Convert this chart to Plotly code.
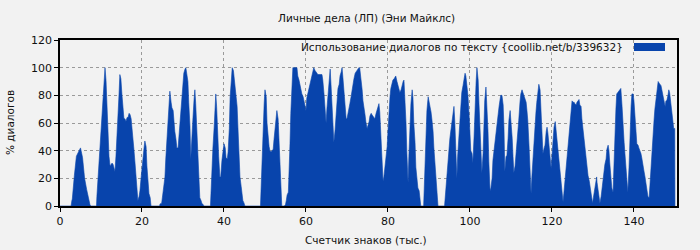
import plotly.graph_objects as go

title_text = "Личные дела (ЛП) (Эни Майклс)"
legend_text = "Использование диалогов по тексту {coollib.net/b/339632}"
x_title = "Счетчик знаков (тыс.)"
y_title = "% диалогов"
x_ticks = [0, 20, 40, 60, 80, 100, 120, 140]
y_ticks = [0, 20, 40, 60, 80, 100, 120]

pts = [
    (0, 0), (2.7, 0), (2.9, 4), (3.0, 5), (3.5, 22), (4.0, 36), (4.5, 39), (5.0, 42), (5.5, 35), (6.0, 20),
    (6.5, 12), (7.0, 4), (7.3, 1), (7.5, 0),
    (8.9, 0), (9.0, 7), (9.27, 20), (9.76, 45), (10.24, 70), (10.5, 81), (10.73, 94), (10.98, 100), (11.22, 91),
    (11.45, 73), (11.7, 55), (11.95, 36), (12.2, 29), (12.45, 30), (12.7, 31), (12.95, 30), (13.2, 27), (13.4, 25),
    (13.65, 36), (13.9, 49), (14.15, 67), (14.4, 81), (14.6, 95), (14.85, 92), (15.1, 81), (15.35, 72), (15.6, 63),
    (15.85, 63), (16.1, 61), (16.35, 64), (16.6, 64), (16.85, 67), (17.1, 66), (17.35, 63), (17.6, 56), (17.8, 50),
    (18.0, 42), (18.3, 31), (18.5, 21), (18.8, 13), (19.0, 4), (19.3, 7), (19.5, 11), (19.8, 21), (20.0, 29),
    (20.25, 36), (20.5, 42), (20.7, 47), (21.0, 43), (21.2, 29), (21.5, 20), (21.7, 9), (22.0, 6), (22.2, 0),
    (24.3, 0), (24.4, 1.5), (24.8, 2), (24.9, 5), (25.1, 8), (25.3, 12), (25.6, 21), (25.8, 34), (26.1, 48),
    (26.3, 62), (26.6, 76), (26.8, 83), (27.1, 75), (27.3, 71), (27.6, 69), (27.8, 60), (28.0, 54), (28.3, 48),
    (28.5, 42), (28.8, 42), (29.0, 50), (29.3, 60), (29.5, 67), (29.8, 82), (30.0, 90), (30.2, 96), (30.5, 99),
    (30.7, 100), (30.9, 96), (31.2, 90), (31.4, 75), (31.7, 58), (31.9, 34), (32.2, 47), (32.4, 62), (32.7, 77),
    (32.9, 84), (33.1, 74), (33.4, 55), (33.6, 36), (33.9, 16), (34.1, 6), (34.4, 4), (34.6, 2), (34.9, 1), (35.1, 0),
    (36.7, 0), (36.8, 8), (37.1, 24), (37.3, 42), (37.6, 57), (37.8, 72), (38.0, 81), (38.2, 72), (38.5, 45),
    (38.7, 36), (39.0, 21), (39.2, 21), (39.5, 33), (39.8, 42), (40.0, 45), (40.3, 42), (40.5, 35), (40.8, 34),
    (41.0, 39), (41.3, 56), (41.5, 79), (41.8, 91), (42.0, 100), (42.3, 98), (42.5, 92), (42.7, 86), (43.0, 79),
    (43.2, 72), (43.4, 57), (43.7, 39), (43.9, 21), (44.2, 14), (44.4, 10), (44.6, 4), (44.9, 2), (45.1, 0),
    (48.9, 0), (49.0, 10), (49.3, 31), (49.5, 52), (49.8, 74), (50.0, 84), (50.3, 79), (50.5, 60), (50.7, 52),
    (51.0, 43), (51.2, 40), (51.5, 39), (51.7, 40), (52.0, 41), (52.2, 48), (52.4, 56), (52.7, 64), (52.9, 69),
    (53.2, 63), (53.4, 49), (53.6, 26), (53.9, 9), (54.1, 0),
    (54.7, 0), (55.0, 1), (55.2, 4), (55.4, 8), (55.7, 10), (55.9, 24), (56.1, 45), (56.3, 67), (56.6, 88),
    (56.8, 100), (57.8, 100), (58.0, 94), (58.3, 91), (58.5, 88), (58.8, 84), (59.0, 81), (59.3, 79), (59.5, 76),
    (59.8, 73), (60.0, 69), (60.2, 78), (60.5, 82), (60.7, 86), (61.0, 90), (61.2, 93), (61.5, 97), (61.7, 98),
    (61.9, 100), (62.2, 98), (62.4, 97), (62.7, 96), (62.9, 95), (63.9, 95), (64.1, 91), (64.4, 81), (64.6, 70),
    (64.9, 60), (65.1, 70), (65.4, 81), (65.6, 92), (65.9, 99), (66.1, 88), (66.3, 74), (66.6, 61), (66.8, 46),
    (67.1, 55), (67.3, 66), (67.6, 76), (67.8, 85), (68.1, 88), (68.3, 94), (68.6, 97), (68.8, 100), (69.0, 93),
    (69.3, 81), (69.5, 69), (69.8, 63), (70.0, 63), (70.2, 67), (70.5, 70), (70.7, 74), (71.0, 79), (71.2, 84),
    (71.5, 88), (71.7, 92), (72.0, 96), (72.2, 97), (72.4, 98), (72.7, 99), (72.9, 100), (73.1, 100), (73.4, 93),
    (73.7, 84), (73.9, 76), (74.1, 70), (74.4, 66), (74.6, 61), (74.9, 56), (75.1, 58), (75.4, 61), (75.6, 65),
    (75.9, 67), (76.1, 66), (76.4, 65), (76.6, 64), (76.8, 63), (77.1, 67), (77.3, 69), (77.6, 72), (77.8, 74),
    (78.0, 68), (78.3, 50), (78.5, 34), (78.8, 18), (79.0, 21), (79.3, 28), (79.5, 34), (79.8, 43), (80.0, 54),
    (80.2, 67), (80.5, 79), (80.7, 85), (81.0, 90), (81.2, 91), (81.5, 92), (81.7, 93), (81.9, 94), (82.2, 90),
    (82.4, 87), (82.7, 84), (82.9, 82), (83.2, 84), (83.4, 87), (83.7, 90), (83.9, 91), (84.1, 81), (84.4, 60),
    (84.6, 39), (84.9, 17), (85.1, 36), (85.4, 62), (85.6, 74), (85.9, 84), (86.1, 78), (86.3, 60), (86.6, 46),
    (86.8, 28), (87.1, 21), (87.3, 13), (87.6, 11), (87.8, 4), (88.0, 0),
    (88.7, 0), (88.8, 9), (89.0, 24), (89.3, 48), (89.5, 69), (89.8, 79), (90.0, 76), (90.3, 72), (90.5, 68),
    (90.7, 63), (91.0, 54), (91.2, 42), (91.5, 28), (91.7, 17), (91.9, 7), (92.2, 0),
    (93.8, 0), (93.9, 4), (94.2, 13), (94.4, 22), (94.6, 31), (94.9, 40), (95.1, 49), (95.4, 56), (95.6, 61),
    (95.9, 67), (96.1, 72), (96.3, 61), (96.6, 42), (96.8, 20), (97.0, 36), (97.3, 50), (97.6, 66), (97.8, 76),
    (98.0, 82), (98.3, 87), (98.5, 92), (98.8, 96), (99.0, 94), (99.3, 86), (99.5, 80), (99.8, 65), (100.0, 53),
    (100.2, 40), (100.5, 38), (100.7, 31), (101.0, 50), (101.2, 70), (101.5, 90), (101.7, 100), (102.0, 91),
    (102.2, 74), (102.4, 57), (102.7, 40), (102.9, 24), (103.2, 38), (103.4, 58), (103.6, 76), (103.9, 86),
    (104.1, 75), (104.4, 54), (104.6, 32), (104.9, 11), (105.1, 13), (105.4, 20), (105.6, 33), (105.9, 41),
    (106.1, 50), (106.3, 55), (106.6, 61), (106.8, 67), (107.1, 72), (107.3, 76), (107.5, 80), (107.8, 80),
    (108.1, 73), (108.3, 56), (108.5, 25), (108.8, 36), (109.0, 36), (109.3, 49), (109.5, 62), (109.8, 69),
    (110.0, 62), (110.3, 49), (110.5, 36), (110.7, 24), (111.0, 29), (111.2, 36), (111.4, 43), (111.7, 51),
    (111.9, 62), (112.2, 75), (112.4, 81), (112.7, 84), (112.9, 82), (113.2, 79), (113.4, 77), (113.7, 75),
    (113.9, 69), (114.1, 62), (114.4, 44), (114.6, 26), (114.9, 9), (115.1, 21), (115.4, 36), (115.6, 49),
    (115.8, 61), (116.1, 68), (116.3, 75), (116.6, 82), (116.8, 88), (117.1, 84), (117.3, 67), (117.6, 52),
    (117.8, 38), (118.1, 42), (118.3, 44), (118.6, 54), (118.8, 57), (119.0, 53), (119.3, 43), (119.5, 36),
    (119.8, 27), (120.0, 36), (120.3, 50), (120.5, 57), (120.8, 61), (121.0, 55), (121.2, 48), (121.5, 40),
    (121.7, 33), (122.0, 21), (122.2, 14), (122.4, 10), (122.7, 3), (122.9, 9), (123.1, 16), (123.4, 22),
    (123.6, 29), (123.9, 40), (124.1, 50), (124.4, 61), (124.6, 70), (124.9, 76), (125.1, 75), (125.4, 75),
    (125.6, 74), (125.9, 73), (126.1, 75), (126.3, 76), (126.6, 77), (126.8, 73), (127.1, 72), (127.3, 63),
    (127.6, 55), (127.8, 45), (128.1, 38), (128.3, 33), (128.6, 28), (128.8, 22), (129.1, 18), (129.4, 13),
    (129.6, 7), (129.9, 2), (130.1, 6), (130.4, 13), (130.6, 18), (130.9, 21), (131.0, 17), (131.2, 13),
    (131.4, 7), (131.7, 2), (132.0, 7), (132.2, 13), (132.4, 18), (132.7, 24), (132.9, 30), (133.2, 34),
    (133.4, 41), (133.7, 44), (133.9, 40), (134.1, 31), (134.4, 22), (134.6, 13), (134.9, 10), (135.1, 30),
    (135.4, 50), (135.6, 70), (135.8, 81), (136.1, 82), (136.3, 83), (136.6, 84), (136.8, 85), (137.1, 72),
    (137.3, 58), (137.6, 46), (137.8, 38), (138.0, 28), (138.3, 16), (138.5, 10), (138.8, 28), (139.0, 50),
    (139.3, 72), (139.5, 81), (139.8, 81), (140.0, 76), (140.3, 66), (140.5, 54), (140.7, 45), (141.0, 44),
    (141.2, 42), (141.5, 40), (141.7, 38), (141.9, 35), (142.2, 31), (142.4, 26), (142.7, 21), (142.9, 15),
    (143.2, 11), (143.4, 7), (143.7, 6), (143.9, 15), (144.2, 31), (144.4, 43), (144.6, 54), (144.9, 62),
    (145.1, 70), (145.4, 78), (145.6, 86), (145.9, 90), (146.1, 89), (146.4, 88), (146.6, 87), (146.8, 84),
    (147.1, 80), (147.3, 76), (147.6, 72), (147.8, 76), (148.0, 76), (148.3, 80), (148.5, 84), (148.7, 82),
    (148.9, 77), (149.2, 70), (149.4, 63), (149.7, 56), (149.95, 56), (150.0, 0),
]
counter_k = [p[0] for p in pts]
dialog_pct = [p[1] for p in pts]

BLUE = "#0844AC"
BG = "#F2F2F2"
FONT = "DejaVu Sans"
TXT = "#111"

W, H = 700, 250
L, R, T, B = 60, 23, 40, 44
PW, PH = W - L - R, H - T - B


def px_x(p):
    return (p - L) / PW


def px_y(p):
    return 1 - (p - T) / PH


fig = go.Figure()
fig.add_trace(go.Scatter(
    x=counter_k, y=dialog_pct, mode="lines", fill="tozeroy",
    line=dict(color=BLUE, width=0.6), fillcolor=BLUE,
    showlegend=False, hoverinfo="skip",
))

axis_common = dict(
    ticks="outside", ticklen=4, tickcolor="#000", automargin=False,
    showline=True, linecolor="#000", linewidth=1.5, mirror=True,
    showgrid=True, gridcolor="#9a9a9a", griddash="3px,3px", gridwidth=1, zeroline=False,
    tickfont=dict(family=FONT, size=11, color=TXT),
)

fig.update_layout(
    width=W, height=H,
    margin=dict(l=L, r=R, t=T, b=B),
    paper_bgcolor=BG, plot_bgcolor=BG,
    font=dict(family=FONT, size=11, color=TXT),
    xaxis=dict(range=[0, 150.5], tickvals=x_ticks, **axis_common),
    yaxis=dict(range=[0, 120], tickvals=y_ticks, **axis_common),
    annotations=[
        dict(text=title_text, xref="paper", yref="paper", x=px_x(366), y=px_y(18),
             xanchor="center", yanchor="middle", showarrow=False,
             font=dict(family=FONT, size=10.5, color=TXT)),
        dict(text=x_title, xref="paper", yref="paper", x=px_x(366), y=px_y(240),
             xanchor="center", yanchor="middle", showarrow=False,
             font=dict(family=FONT, size=10.5, color=TXT)),
        dict(text=y_title, xref="paper", yref="paper", x=px_x(10), y=px_y(123),
             xanchor="center", yanchor="middle", showarrow=False, textangle=-90,
             font=dict(family=FONT, size=10.5, color=TXT)),
        dict(text=legend_text, xref="paper", yref="paper", x=px_x(625), y=px_y(47),
             xanchor="right", yanchor="middle", showarrow=False,
             font=dict(family=FONT, size=10.5, color=TXT)),
    ],
    shapes=[dict(
        type="rect", xref="paper", yref="paper",
        x0=px_x(634), x1=px_x(665), y0=px_y(51), y1=px_y(43),
        fillcolor=BLUE, line=dict(width=0),
    )],
)

fig.write_html("out.html")
